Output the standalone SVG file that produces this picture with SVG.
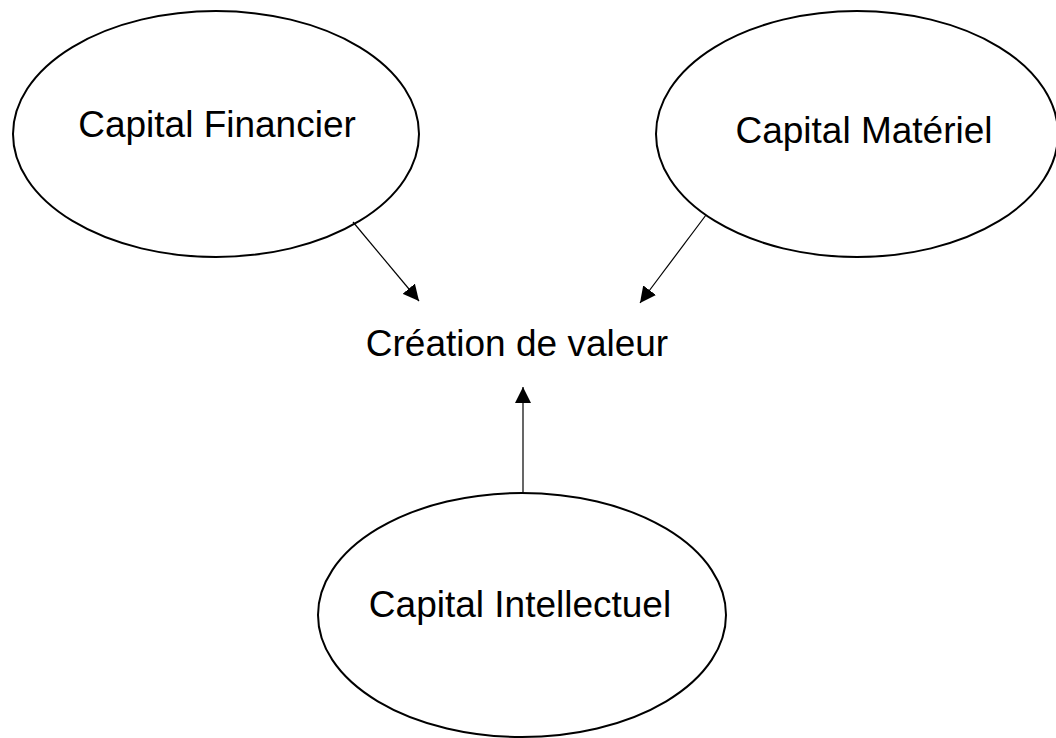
<svg xmlns="http://www.w3.org/2000/svg" width="1056" height="738" viewBox="0 0 1056 738">
<style>
.node ellipse{fill:#fff;stroke:#000;stroke-width:2}
.lbl{font-family:"Liberation Sans",Arial,Helvetica,sans-serif;font-size:37px;fill:#000;text-anchor:middle}
.conn line{stroke:#000;stroke-width:1.2}
</style>
<defs>
<marker id="ah" viewBox="0 0 16 16" refX="16" refY="8" markerWidth="16" markerHeight="16" markerUnits="userSpaceOnUse" orient="auto">
<path d="M0,0 L16,8 L0,16 Z" fill="#000"/>
</marker>
</defs>
<rect width="1056" height="738" fill="#fff"/>
<g id="n-financier" class="node">
<ellipse cx="216" cy="134" rx="203" ry="123"/>
<text class="lbl" x="217" y="137">Capital Financier</text>
</g>
<g id="n-materiel" class="node">
<ellipse cx="857" cy="134" rx="201" ry="123"/>
<text class="lbl" x="864" y="143">Capital Matériel</text>
</g>
<g id="n-intellectuel" class="node">
<ellipse cx="522" cy="615" rx="204" ry="122"/>
<text class="lbl" x="520" y="617">Capital Intellectuel</text>
</g>
<g id="n-creation">
<text class="lbl" x="517" y="356">Création de valeur</text>
</g>
<g id="connectors" class="conn">
<line x1="353" y1="222" x2="419" y2="301" marker-end="url(#ah)"/>
<line x1="706" y1="215" x2="640" y2="303" marker-end="url(#ah)"/>
<line x1="523" y1="492" x2="523" y2="387" marker-end="url(#ah)"/>
</g>
</svg>
